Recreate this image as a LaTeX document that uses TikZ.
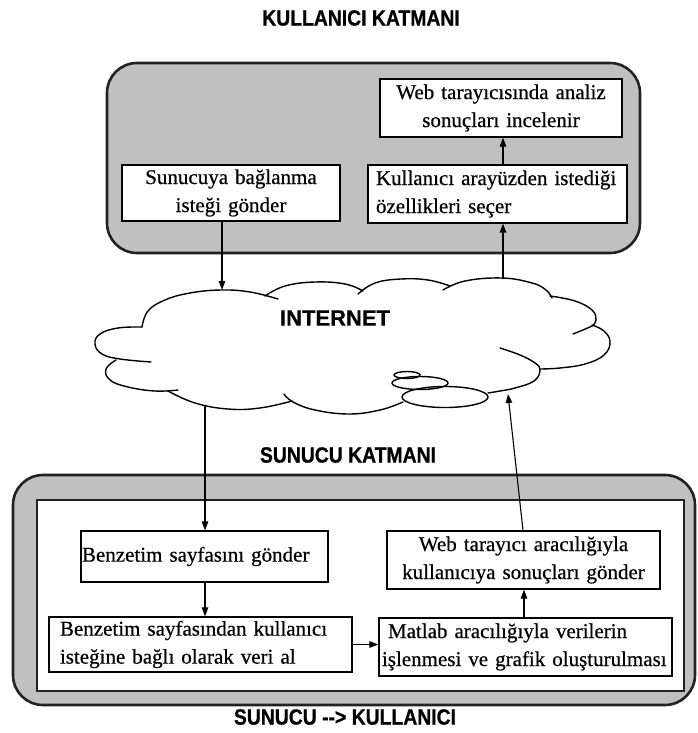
\documentclass[tikz,border=0pt]{standalone}
\usepackage{fontspec}
\setmainfont{Liberation Serif}[FakeBold=0.5]
\newfontfamily\headfont{Liberation Sans}[FakeStretch=0.88, FakeBold=0.8]
\newfontfamily\labelfont{Liberation Sans}[FakeBold=0.6]
\usetikzlibrary{arrows.meta}
\definecolor{panelgray}{HTML}{C0C0C0}
\definecolor{edge}{HTML}{222222}
\begin{document}
\begin{tikzpicture}[x=1pt,y=-1pt,
  panel/.style={draw=edge, line width=2.6pt, fill=panelgray, rounded corners=30pt},
  stepbox/.style={draw=black, line width=1.2pt, fill=white, inner sep=0pt,
    font=\fontsize{21}{28}\selectfont},
  flow/.style={draw=black, line width=1.1pt, -{Triangle[length=9pt,width=6.5pt]}},
  cloudline/.style={draw=black, line width=1.4pt, line cap=round},
  heading/.style={font=\headfont\bfseries\fontsize{22}{22}\selectfont},
  puff/.style={cloudline, smooth, tension=0.7}]
\useasboundingbox (0,0) rectangle (698,733);

% layer panels
\draw[panel] (107,63) rectangle (640,253);
\draw[panel] (13,475) rectangle (695,705);
\draw[draw=edge, line width=2pt, fill=white] (37,500) rectangle (684,691);

% headings
\node[heading] (ttop) at (361,18) {KULLANICI KATMANI};
\node[heading] (tmid) at (348,455) {SUNUCU KATMANI};
\node[heading] (tbot) at (345,717) {SUNUCU -{}-{}>{} KULLANICI};

% client layer steps
\node[stepbox, minimum width=242pt, minimum height=58pt, text width=236pt, align=center]
  (web1) at (501,108) {Web tarayıcısında analiz\\sonuçları incelenir};
\node[stepbox, minimum width=259pt, minimum height=58pt, text width=243pt, align=left]
  (kul) at (497.5,194) {Kullanıcı arayüzden istediği\\özellikleri seçer};
\node[stepbox, minimum width=218pt, minimum height=56pt, text width=210pt, align=center]
  (sun) at (231,193) {Sunucuya bağlanma\\isteği gönder};

% server layer steps
\node[stepbox, minimum width=247pt, minimum height=51pt, text width=245pt, align=left]
  (benz) at (204.5,556.5) {Benzetim sayfasını gönder};
\node[stepbox, minimum width=303pt, minimum height=55pt, text width=281pt, align=left]
  (benz2) at (200.5,644.5) {Benzetim sayfasından kullanıcı\\isteğine bağlı olarak veri al};
\node[stepbox, minimum width=273pt, minimum height=58pt, text width=265pt, align=center]
  (web2) at (523.5,560) {Web tarayıcı aracılığıyla\\kullanıcıya sonuçları gönder};
\node[stepbox, minimum width=293pt, minimum height=58pt, text width=287pt, align=left]
  (matlab) at (525.5,647) {\hspace*{6pt}Matlab aracılığıyla verilerin\\işlenmesi ve grafik oluşturulması};

% internet cloud
\draw[puff] plot coordinates {(142,327) (148,311) (165,300) (190,293) (221,290) (250,292) (278,299)};
\draw[puff] plot coordinates {(265,296) (285,286) (315,282) (345,284) (363,291)};
\draw[puff] plot coordinates {(358,294) (375,283) (401,279) (428,280) (450,286)};
\draw[puff] plot coordinates {(443,290) (465,281) (502,278) (532,283) (546,290) (552,298)};
\draw[puff] plot coordinates {(550,296) (575,301) (592,310) (596,320) (592,326)};
\draw[puff] plot coordinates {(592,326) (583,330) (573,334)};
\draw[puff] plot coordinates {(592,325) (604,331) (610,342) (604,355) (585,364) (560,368) (540,369)};
\draw[puff] plot coordinates {(500,348) (520,355) (535,363) (540,370) (534,381) (515,388) (500,391) (488,393)};
\draw[puff] plot coordinates {(403,402) (380,410) (349,414) (315,410) (293,402) (284,394)};
\draw[puff] plot coordinates {(292,401) (260,408) (228,409) (195,403) (168,391)};
\draw[puff] plot coordinates {(116,360) (106,369) (110,380) (128,387) (155,391) (178,390)};
\draw[puff] plot coordinates {(142,327) (118,328) (100,334) (95,344) (102,354) (120,359) (151,362)};
\draw[cloudline] (445,397) ellipse [x radius=43pt, y radius=10.5pt];
\draw[cloudline] (420,383) ellipse [x radius=28pt, y radius=6.5pt];
\draw[cloudline] (407,375) ellipse [x radius=13pt, y radius=3.5pt];
\node[font=\labelfont\bfseries\fontsize{22}{22}\selectfont] (inet) at (335,318) {INTERNET};

% where the connectors meet the cloud
\coordinate (cin) at (222,290);
\coordinate (cout) at (503,279);
\coordinate (cbl) at (205,406);
\coordinate (cbr) at (508,394);
\coordinate (xw) at (523,0);
\coordinate (xm) at (524,0);

% connectors
\draw[flow] (sun.south -| cin) -- (cin);
\draw[flow] (cout) -- (cout |- kul.south);
\draw[flow] (kul.north -| cout) -- (web1.south -| cout);
\draw[flow] (cbl) -- (cbl |- benz.north);
\draw[flow] (web2.north -| xw) -- (cbr);
\draw[flow] (benz.south -| cbl) -- (benz2.north -| cbl);
\draw[flow] (benz2.east) -- (benz2.east -| matlab.west);
\draw[flow] (matlab.north -| xm) -- (web2.south -| xm);
\end{tikzpicture}
\end{document}
